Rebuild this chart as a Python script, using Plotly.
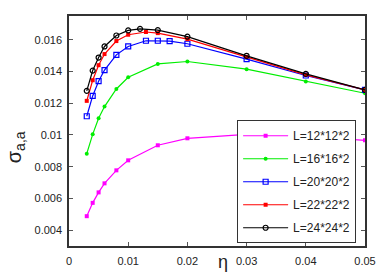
import plotly.graph_objects as go

eta_12 = [0.003, 0.004, 0.005, 0.006, 0.008, 0.01, 0.015, 0.02, 0.03, 0.04, 0.05]
sig_12 = [0.00488, 0.00572, 0.00638, 0.00695, 0.00777, 0.0084, 0.00935, 0.00979, 0.01004, 0.00992, 0.00966]

eta_16 = [0.003, 0.004, 0.005, 0.006, 0.008, 0.01, 0.015, 0.02, 0.03, 0.04, 0.05]
sig_16 = [0.00882, 0.01004, 0.01105, 0.01179, 0.0129, 0.01364, 0.01448, 0.01463, 0.01415, 0.01337, 0.01263]

eta_20 = [0.003, 0.004, 0.005, 0.006, 0.008, 0.01, 0.013, 0.015, 0.017, 0.02, 0.03, 0.04, 0.05]
sig_20 = [0.01118, 0.01246, 0.01339, 0.01409, 0.01505, 0.01558, 0.01594, 0.01594, 0.01592, 0.01575, 0.01478, 0.01375, 0.01284]

eta_22 = [0.003, 0.004, 0.005, 0.006, 0.008, 0.01, 0.013, 0.015, 0.02, 0.03, 0.04, 0.05]
sig_22 = [0.01215, 0.01345, 0.0144, 0.0151, 0.01592, 0.01632, 0.01649, 0.01642, 0.01604, 0.01492, 0.01379, 0.01284]

eta_24 = [0.003, 0.004, 0.005, 0.006, 0.008, 0.01, 0.012, 0.015, 0.02, 0.03, 0.04, 0.05]
sig_24 = [0.01278, 0.01406, 0.01488, 0.01558, 0.01627, 0.01659, 0.01669, 0.01661, 0.0162, 0.01499, 0.01385, 0.01284]

labels = ["L=12*12*2", "L=16*16*2", "L=20*20*2", "L=22*22*2", "L=24*24*2"]

x_tickvals = [0, 0.01, 0.02, 0.03, 0.04, 0.05]
x_ticktext = ["0", "0.01", "0.02", "0.03", "0.04", "0.05"]
y_tickvals = [0.004, 0.006, 0.008, 0.01, 0.012, 0.014, 0.016]
y_ticktext = ["0.004", "0.006", "0.008", "0.01", "0.012", "0.014", "0.016"]

x_title = "η"
y_title = "σ<sub>a,a</sub>"

series = [
    (eta_12, sig_12, "#ff00ff", dict(symbol="square", size=4)),
    (eta_16, sig_16, "#00ee00", dict(symbol="circle", size=4)),
    (eta_20, sig_20, "#0000ff", dict(symbol="square-open", size=5, line=dict(width=1.2))),
    (eta_22, sig_22, "#ff0000", dict(symbol="square", size=4)),
    (eta_24, sig_24, "#000000", dict(symbol="circle-open", size=5, line=dict(width=1.2))),
]

fig = go.Figure()
for (xs, ys, col, mk), name in zip(series, labels):
    fig.add_trace(go.Scatter(
        x=xs, y=ys, name=name, mode="lines+markers", legendgroup=name,
        line=dict(color=col, width=1.2),
        marker=dict(color=col, **mk),
    ))

FONT = "Liberation Sans, Arial, sans-serif"
axis_common = dict(
    showline=True, linecolor="#333333", linewidth=1.5, mirror="ticks",
    ticks="inside", ticklen=4, tickcolor="#555555", tickwidth=1,
    showgrid=False, zeroline=False, automargin=False,
    tickfont=dict(family=FONT, size=11, color="#222222"),
)

fig.update_layout(
    width=389, height=273,
    margin=dict(l=69, r=24, t=16, b=27, autoexpand=False),
    paper_bgcolor="white", plot_bgcolor="white",
    font=dict(family=FONT, color="#222222"),
    xaxis=dict(range=[0, 0.05], tickvals=x_tickvals, ticktext=x_ticktext,
               ticklabelstandoff=4, **axis_common),
    yaxis=dict(range=[0.003, 0.0175], tickvals=y_tickvals, ticktext=y_ticktext,
               ticklabelstandoff=3, **axis_common),
    legend=dict(x=0.97, y=0.012, xanchor="right", yanchor="bottom",
                bgcolor="white", bordercolor="#333333", borderwidth=1,
                tracegroupgap=4, itemwidth=45,
                font=dict(size=12, color="#222222")),
    showlegend=True,
    annotations=[
        dict(text=x_title, xref="paper", yref="paper", x=0.52, y=-0.071,
             xanchor="center", yanchor="middle", showarrow=False,
             font=dict(size=18, color="#222222")),
        dict(text=y_title, xref="paper", yref="paper", x=-0.182, y=0.43,
             xanchor="center", yanchor="middle", showarrow=False, textangle=-90,
             font=dict(size=20, color="#222222")),
    ],
)

fig.write_html("out.html", config={"displayModeBar": False},
               post_script="document.body.style.margin='0';document.body.style.overflow='hidden';")
